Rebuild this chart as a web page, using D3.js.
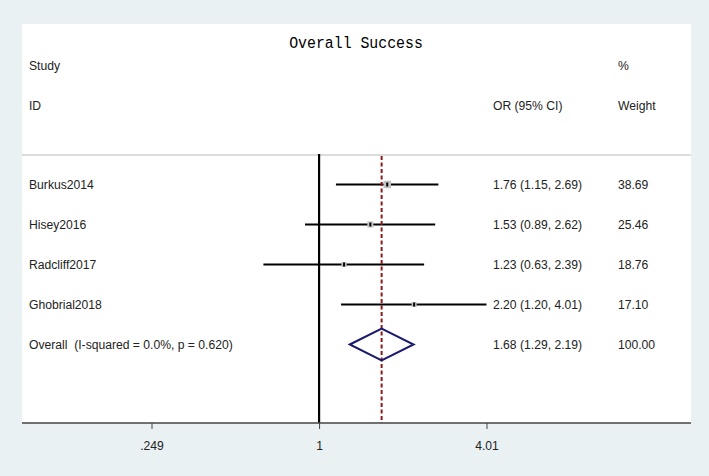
<!DOCTYPE html>
<html><head><meta charset="utf-8">
<script src="https://cdn.jsdelivr.net/npm/d3@7"></script>
<style>html,body{margin:0;padding:0;background:#e9f1f3;}svg{display:block;}text{white-space:pre;}</style>
</head><body>
<svg id="c" width="709" height="476"></svg>
<script>
const studies = ["Burkus2014","Hisey2016","Radcliff2017","Ghobrial2018"];
const orVals = [1.76, 1.53, 1.23, 2.20];
const lowerCI = [1.15, 0.89, 0.63, 1.20];
const upperCI = [2.69, 2.62, 2.39, 4.01];
const weights = [38.69, 25.46, 18.76, 17.10];
const overallLabel = "Overall  (I-squared = 0.0%, p = 0.620)";
const overall = {or: 1.68, lo: 1.29, hi: 2.19, w: 100.00};
const tickVals = [0.249, 1, 4.01];
const tickLabels = [".249", "1", "4.01"];

const svg = d3.select("#c");
const W = 709, H = 476;
const panel = {l: 22, r: 691, t: 24, b: 423};
const font = "Liberation Sans, Arial, sans-serif";
const FS = 13.5, SX = 0.9;

svg.append("rect").attr("x",0).attr("y",0).attr("width",W).attr("height",H).attr("fill","#e9f1f3");
svg.append("rect").attr("x",panel.l).attr("y",panel.t).attr("width",panel.r-panel.l).attr("height",panel.b-panel.t).attr("fill","#fff");

const x = d3.scaleLog().domain([0.249, 4.01]).range([151.5, 486.5]);
const rows = studies.concat([overallLabel]);
const y = d3.scalePoint().domain(rows).range([184.5, 344.5]);
const boxSize = d3.scaleSqrt().domain([0, d3.max(weights)]).range([0, 7.5]);

// narrow-text helper
const txt = (tx, ty, s, anchor) => svg.append("text")
  .attr("transform", `translate(${tx},${ty}) scale(${SX},1)`)
  .attr("text-anchor", anchor || "start").attr("dominant-baseline","central")
  .attr("font-family",font).attr("font-size",FS).attr("fill","#222").text(s);

// title
svg.append("text").attr("transform","translate(356,44) scale(0.9,1)").attr("text-anchor","middle").attr("dominant-baseline","central")
  .attr("font-family","Liberation Mono, DejaVu Sans Mono, monospace").attr("font-size",16.5).attr("fill","#000").text("Overall Success");

// headers
txt(29, 65, "Study");
txt(29, 105, "ID");
txt(493, 105, "OR (95% CI)");
txt(618, 65, "%");
txt(618, 105, "Weight");

// header separator
svg.append("line").attr("x1",panel.l).attr("x2",panel.r).attr("y1",155).attr("y2",155).attr("stroke","#d0d0d0").attr("stroke-width",1.5);

// null line
svg.append("line").attr("x1",x(1)).attr("x2",x(1)).attr("y1",154).attr("y2",panel.b).attr("stroke","#000").attr("stroke-width",2.2);

// CIs
const g = svg.append("g");
studies.forEach((s,i) => {
  const yy = y(s);
  g.append("line").attr("x1",x(lowerCI[i])).attr("x2",x(upperCI[i])).attr("y1",yy).attr("y2",yy).attr("stroke","#000").attr("stroke-width",2);
  const sz = boxSize(weights[i]);
  g.append("rect").attr("x",x(orVals[i])-sz/2).attr("y",yy-sz/2).attr("width",sz).attr("height",sz).attr("fill","#c4c4c4");
  g.append("rect").attr("x",x(orVals[i])-1).attr("y",yy-2).attr("width",2).attr("height",4).attr("fill","#000");
});

// overall effect dashed line
svg.append("line").attr("x1",x(overall.or)).attr("x2",x(overall.or)).attr("y1",156).attr("y2",panel.b)
  .attr("stroke","#8b1a1a").attr("stroke-width",2).attr("stroke-dasharray","4,2.5");

// diamond
const yo = y(overallLabel);
svg.append("path").attr("d", d3.line()([[x(overall.lo),yo],[x(overall.or),yo-16],[x(overall.hi),yo],[x(overall.or),yo+16]]) + "Z")
  .attr("fill","none").attr("stroke","#1a1a6e").attr("stroke-width",2);

// row text
const orTxt = orVals.map((v,i)=>`${v.toFixed(2)} (${lowerCI[i].toFixed(2)}, ${upperCI[i].toFixed(2)})`)
  .concat([`${overall.or.toFixed(2)} (${overall.lo.toFixed(2)}, ${overall.hi.toFixed(2)})`]);
const wTxt = weights.map(w=>w.toFixed(2)).concat([overall.w.toFixed(2)]);
rows.forEach((r,i) => {
  txt(29, y(r), r);
  txt(493, y(r), orTxt[i]);
  txt(618, y(r), wTxt[i]);
});

// axis
const axis = d3.axisBottom(x).tickValues(tickVals).tickFormat((d,i)=>tickLabels[i]).tickSize(6).tickPadding(11);
const ag = svg.append("g").attr("transform",`translate(0,${panel.b})`).call(axis);
ag.select(".domain").remove();
ag.append("line").attr("x1",panel.l).attr("x2",panel.r).attr("y1",0).attr("y2",0).attr("stroke","#444").attr("stroke-width",1.5);
ag.selectAll(".tick line").attr("stroke","#444");
ag.selectAll(".tick text").attr("font-family",font).attr("font-size",FS).attr("fill","#222")
  .attr("transform",`scale(${SX},1)`).attr("x", function(){ return 0; });
</script>
</body></html>
